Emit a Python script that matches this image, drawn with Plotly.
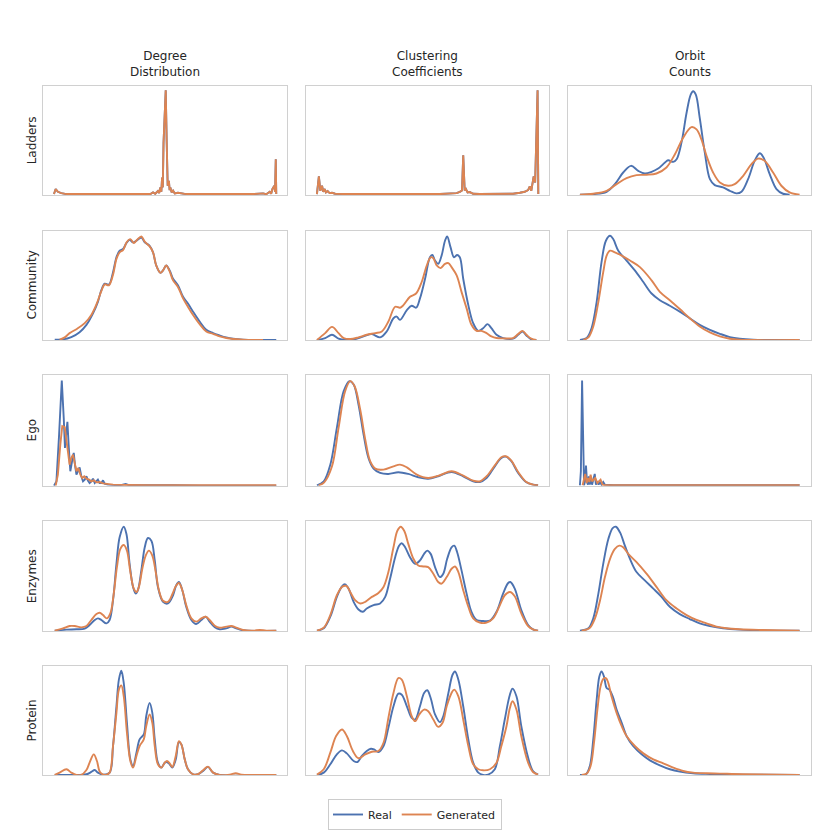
import plotly.graph_objects as go

BLUE = "#4C72B0"
ORANGE = "#DD8452"

datasets = ["Ladders", "Community", "Ego", "Enzymes", "Protein"]
metrics = ["Degree<br>Distribution", "Clustering<br>Coefficients", "Orbit<br>Counts"]
series_names = ["Real", "Generated"]

# ---- Ladders (real and generated coincide) ----
ladders_deg_x = [0.045, 0.052, 0.061, 0.075, 0.096, 0.369, 0.423, 0.440, 0.451, 0.460, 0.471, 0.476,
                 0.481, 0.485, 0.488, 0.491, 0.494, 0.497, 0.503, 0.507, 0.509, 0.511, 0.516, 0.519,
                 0.522, 0.527, 0.533, 0.540, 0.553, 0.587, 0.861, 0.902, 0.915, 0.929, 0.935, 0.940,
                 0.948, 0.951, 0.954, 0.956]
ladders_deg_y = [0.009, 0.055, 0.030, 0.018, 0.009, 0.009, 0.015, 0.010, 0.024, 0.012, 0.036, 0.018,
                 0.070, 0.030, 0.160, 0.070, 0.480, 0.700, 0.958, 0.480, 0.120, 0.085, 0.130, 0.045,
                 0.070, 0.025, 0.040, 0.015, 0.021, 0.009, 0.009, 0.015, 0.008, 0.030, 0.012, 0.055,
                 0.085, 0.030, 0.327, 0.009]

ladders_clu_x = [0.045, 0.053, 0.059, 0.066, 0.071, 0.077, 0.082, 0.089, 0.097, 0.107, 0.120, 0.155,
                 0.551, 0.592, 0.620, 0.633, 0.642, 0.647, 0.653, 0.658, 0.665, 0.674, 0.688, 0.715,
                 0.798, 0.852, 0.880, 0.900, 0.914, 0.921, 0.927, 0.937, 0.943, 0.948, 0.953, 0.956]
ladders_clu_y = [0.009, 0.170, 0.039, 0.085, 0.030, 0.055, 0.024, 0.036, 0.018, 0.021, 0.012, 0.009,
                 0.009, 0.012, 0.018, 0.030, 0.042, 0.364, 0.042, 0.055, 0.024, 0.027, 0.012, 0.009,
                 0.009, 0.012, 0.021, 0.030, 0.045, 0.079, 0.039, 0.170, 0.115, 0.480, 0.958, 0.009]

ladders_orb_real_x = [0.049, 0.104, 0.159, 0.193, 0.227, 0.259, 0.289, 0.316, 0.344, 0.371, 0.399, 0.412,
                      0.433, 0.447, 0.467, 0.488, 0.505, 0.515, 0.526, 0.542, 0.563, 0.584, 0.604, 0.638,
                      0.666, 0.693, 0.714, 0.741, 0.768, 0.789, 0.805, 0.830, 0.858, 0.885, 0.912]
ladders_orb_real_y = [0.003, 0.009, 0.030, 0.100, 0.206, 0.267, 0.221, 0.197, 0.212, 0.242, 0.297, 0.318,
                      0.303, 0.327, 0.479, 0.752, 0.918, 0.948, 0.918, 0.706, 0.388, 0.145, 0.091, 0.070,
                      0.039, 0.015, 0.030, 0.145, 0.312, 0.382, 0.342, 0.191, 0.055, 0.012, 0.003]
ladders_orb_gen_x = [0.049, 0.104, 0.159, 0.200, 0.241, 0.282, 0.323, 0.364, 0.405, 0.440, 0.474, 0.508,
                     0.529, 0.549, 0.570, 0.597, 0.625, 0.659, 0.686, 0.721, 0.755, 0.782, 0.810, 0.844,
                     0.878, 0.912, 0.953]
ladders_orb_gen_y = [0.003, 0.012, 0.039, 0.100, 0.155, 0.182, 0.185, 0.197, 0.252, 0.373, 0.524, 0.621,
                     0.600, 0.509, 0.358, 0.206, 0.115, 0.085, 0.100, 0.176, 0.282, 0.333, 0.312, 0.206,
                     0.085, 0.024, 0.003]

# ---- Community ----
community_deg_real_x = [0.048, 0.082, 0.116, 0.150, 0.178, 0.205, 0.225, 0.239, 0.253, 0.270, 0.287, 0.301,
                        0.314, 0.328, 0.342, 0.355, 0.369, 0.383, 0.403, 0.417, 0.437, 0.451, 0.464, 0.481,
                        0.492, 0.505, 0.519, 0.533, 0.553, 0.574, 0.594, 0.615, 0.642, 0.669, 0.697, 0.724,
                        0.751, 0.779, 0.820, 0.902, 0.956]
community_deg_real_y = [0.006, 0.009, 0.030, 0.075, 0.142, 0.247, 0.352, 0.458, 0.518, 0.509, 0.623, 0.759,
                        0.819, 0.834, 0.889, 0.919, 0.895, 0.910, 0.940, 0.895, 0.864, 0.804, 0.684, 0.617,
                        0.639, 0.684, 0.639, 0.563, 0.503, 0.398, 0.337, 0.262, 0.172, 0.096, 0.066, 0.045,
                        0.027, 0.015, 0.006, 0.003, 0.003]
community_deg_gen_x = [0.068, 0.089, 0.109, 0.137, 0.171, 0.198, 0.219, 0.239, 0.253, 0.270, 0.287, 0.301,
                       0.314, 0.328, 0.344, 0.358, 0.372, 0.385, 0.403, 0.417, 0.437, 0.451, 0.464, 0.481,
                       0.492, 0.505, 0.519, 0.533, 0.553, 0.574, 0.594, 0.615, 0.642, 0.669, 0.697, 0.724,
                       0.751, 0.779, 0.820, 0.902]
community_deg_gen_y = [0.006, 0.027, 0.066, 0.102, 0.157, 0.232, 0.328, 0.449, 0.512, 0.503, 0.599, 0.744,
                       0.804, 0.825, 0.901, 0.925, 0.889, 0.916, 0.949, 0.901, 0.858, 0.804, 0.684, 0.617,
                       0.639, 0.684, 0.630, 0.548, 0.488, 0.383, 0.307, 0.232, 0.148, 0.081, 0.060, 0.036,
                       0.021, 0.012, 0.006, 0.003]

community_clu_real_x = [0.045, 0.079, 0.107, 0.134, 0.161, 0.196, 0.237, 0.271, 0.305, 0.332, 0.360, 0.373,
                        0.387, 0.415, 0.435, 0.453, 0.469, 0.490, 0.510, 0.520, 0.531, 0.544, 0.558, 0.572,
                        0.581, 0.595, 0.609, 0.622, 0.633, 0.647, 0.668, 0.688, 0.709, 0.729, 0.747, 0.763,
                        0.784, 0.811, 0.852, 0.873, 0.891, 0.907, 0.927, 0.948]
community_clu_real_y = [0.003, 0.021, 0.051, 0.015, 0.003, 0.009, 0.036, 0.057, 0.027, 0.081, 0.202, 0.217,
                        0.187, 0.277, 0.316, 0.298, 0.383, 0.563, 0.759, 0.780, 0.729, 0.699, 0.774, 0.910,
                        0.949, 0.849, 0.759, 0.780, 0.759, 0.563, 0.322, 0.157, 0.087, 0.111, 0.148, 0.111,
                        0.051, 0.021, 0.015, 0.051, 0.081, 0.045, 0.009, 0.003]
community_clu_gen_x = [0.045, 0.079, 0.107, 0.134, 0.155, 0.182, 0.216, 0.250, 0.285, 0.312, 0.339, 0.367,
                       0.387, 0.401, 0.428, 0.453, 0.476, 0.497, 0.513, 0.524, 0.538, 0.554, 0.572, 0.586,
                       0.599, 0.620, 0.640, 0.661, 0.681, 0.702, 0.722, 0.743, 0.763, 0.784, 0.811, 0.852,
                       0.873, 0.891, 0.907, 0.927, 0.948]
community_clu_gen_y = [0.003, 0.066, 0.123, 0.066, 0.021, 0.012, 0.027, 0.051, 0.066, 0.081, 0.172, 0.307,
                       0.298, 0.322, 0.398, 0.428, 0.533, 0.684, 0.759, 0.750, 0.684, 0.660, 0.699, 0.705,
                       0.669, 0.593, 0.443, 0.292, 0.142, 0.087, 0.087, 0.066, 0.036, 0.021, 0.018, 0.021,
                       0.057, 0.087, 0.051, 0.015, 0.003]

community_orb_real_x = [0.049, 0.077, 0.097, 0.118, 0.138, 0.156, 0.173, 0.186, 0.207, 0.241, 0.275, 0.310,
                        0.344, 0.378, 0.419, 0.460, 0.501, 0.542, 0.584, 0.625, 0.666, 0.707, 0.762, 0.858,
                        0.953]
community_orb_real_y = [0.003, 0.021, 0.111, 0.352, 0.714, 0.910, 0.955, 0.925, 0.819, 0.729, 0.639, 0.533,
                        0.428, 0.367, 0.316, 0.262, 0.202, 0.142, 0.096, 0.060, 0.030, 0.015, 0.006, 0.003,
                        0.003]
community_orb_gen_x = [0.063, 0.084, 0.104, 0.125, 0.145, 0.159, 0.173, 0.193, 0.221, 0.255, 0.296, 0.344,
                       0.378, 0.419, 0.460, 0.501, 0.542, 0.584, 0.625, 0.666, 0.707, 0.762, 0.953]
community_orb_gen_y = [0.003, 0.027, 0.127, 0.352, 0.623, 0.774, 0.819, 0.804, 0.774, 0.729, 0.669, 0.548,
                       0.443, 0.367, 0.286, 0.202, 0.127, 0.072, 0.036, 0.015, 0.006, 0.003, 0.003]

# ---- Ego ----
ego_deg_real_x = [0.045, 0.055, 0.066, 0.077, 0.085, 0.090, 0.096, 0.100, 0.105, 0.112, 0.119, 0.126,
                  0.131, 0.137, 0.143, 0.150, 0.157, 0.164, 0.171, 0.178, 0.184, 0.191, 0.198, 0.205,
                  0.212, 0.219, 0.225, 0.232, 0.239, 0.246, 0.253, 0.266, 0.287, 0.314, 0.339, 0.355,
                  0.396, 0.512, 0.519, 0.533, 0.642, 0.956]
ego_deg_real_y = [0.000, 0.039, 0.462, 0.952, 0.613, 0.341, 0.492, 0.577, 0.372, 0.130, 0.221, 0.296,
                  0.190, 0.100, 0.130, 0.166, 0.085, 0.039, 0.054, 0.085, 0.045, 0.024, 0.039, 0.063,
                  0.024, 0.039, 0.054, 0.024, 0.024, 0.048, 0.018, 0.009, 0.009, 0.003, 0.015, 0.003,
                  0.003, 0.003, 0.009, 0.003, 0.000, 0.000]
ego_deg_gen_x = [0.052, 0.061, 0.071, 0.079, 0.089, 0.096, 0.102, 0.109, 0.116, 0.123, 0.130, 0.137,
                 0.145, 0.153, 0.161, 0.169, 0.178, 0.189, 0.198, 0.208, 0.219, 0.232, 0.246, 0.260,
                 0.287, 0.342, 0.437, 0.956]
ego_deg_gen_y = [0.000, 0.100, 0.372, 0.538, 0.529, 0.432, 0.311, 0.190, 0.251, 0.281, 0.190, 0.130,
                 0.160, 0.100, 0.069, 0.085, 0.063, 0.054, 0.039, 0.048, 0.030, 0.033, 0.021, 0.015,
                 0.009, 0.006, 0.003, 0.003]

ego_clu_real_x = [0.045, 0.073, 0.100, 0.127, 0.155, 0.179, 0.196, 0.216, 0.237, 0.257, 0.278, 0.305,
                  0.339, 0.380, 0.421, 0.462, 0.503, 0.544, 0.599, 0.647, 0.688, 0.715, 0.743, 0.777,
                  0.804, 0.822, 0.845, 0.873, 0.907, 0.934, 0.955]
ego_clu_real_y = [0.003, 0.039, 0.190, 0.523, 0.855, 0.946, 0.915, 0.734, 0.462, 0.251, 0.154, 0.115,
                  0.106, 0.121, 0.106, 0.076, 0.063, 0.085, 0.124, 0.085, 0.039, 0.033, 0.069, 0.175,
                  0.251, 0.263, 0.221, 0.115, 0.030, 0.009, 0.003]
ego_clu_gen_x = [0.052, 0.075, 0.107, 0.134, 0.161, 0.182, 0.200, 0.223, 0.244, 0.264, 0.285, 0.319,
                 0.360, 0.387, 0.415, 0.456, 0.503, 0.551, 0.599, 0.647, 0.688, 0.715, 0.743, 0.777,
                 0.804, 0.822, 0.845, 0.873, 0.907, 0.934, 0.955]
ego_clu_gen_y = [0.003, 0.030, 0.175, 0.523, 0.855, 0.946, 0.900, 0.689, 0.417, 0.221, 0.154, 0.145,
                 0.175, 0.190, 0.166, 0.100, 0.069, 0.094, 0.130, 0.091, 0.045, 0.039, 0.085, 0.184,
                 0.257, 0.266, 0.227, 0.124, 0.033, 0.009, 0.003]

ego_orb_real_x = [0.049, 0.053, 0.058, 0.062, 0.066, 0.070, 0.074, 0.078, 0.082, 0.086, 0.090, 0.095,
                  0.099, 0.104, 0.110, 0.115, 0.121, 0.126, 0.132, 0.138, 0.145, 0.152, 0.186, 0.953]
ego_orb_real_y = [0.003, 0.130, 0.952, 0.311, 0.003, 0.039, 0.181, 0.039, 0.009, 0.085, 0.009, 0.069,
                  0.009, 0.054, 0.106, 0.009, 0.039, 0.009, 0.033, 0.009, 0.033, 0.009, 0.003, 0.003]
ego_orb_gen_x = [0.060, 0.066, 0.071, 0.077, 0.082, 0.088, 0.093, 0.099, 0.104, 0.112, 0.121, 0.129,
                 0.134, 0.142, 0.152, 0.953]
ego_orb_gen_y = [0.003, 0.054, 0.106, 0.024, 0.069, 0.033, 0.100, 0.039, 0.054, 0.069, 0.024, 0.039,
                 0.054, 0.009, 0.003, 0.003]

# ---- Enzymes ----
enzymes_deg_real_x = [0.048, 0.096, 0.137, 0.171, 0.191, 0.212, 0.225, 0.239, 0.260, 0.273, 0.287, 0.301,
                      0.314, 0.331, 0.342, 0.355, 0.369, 0.380, 0.389, 0.403, 0.417, 0.430, 0.444, 0.458,
                      0.471, 0.492, 0.512, 0.533, 0.546, 0.557, 0.571, 0.587, 0.608, 0.628, 0.649, 0.667,
                      0.683, 0.704, 0.724, 0.751, 0.772, 0.792, 0.820, 0.956]
enzymes_deg_real_y = [0.003, 0.012, 0.015, 0.021, 0.054, 0.100, 0.115, 0.100, 0.069, 0.100, 0.281, 0.613,
                      0.855, 0.952, 0.885, 0.613, 0.402, 0.341, 0.372, 0.553, 0.764, 0.849, 0.825, 0.644,
                      0.402, 0.266, 0.251, 0.326, 0.417, 0.447, 0.372, 0.221, 0.100, 0.063, 0.100, 0.130,
                      0.085, 0.033, 0.015, 0.024, 0.039, 0.024, 0.006, 0.003]
enzymes_deg_gen_x = [0.048, 0.082, 0.109, 0.130, 0.157, 0.178, 0.198, 0.219, 0.232, 0.246, 0.262, 0.276,
                     0.290, 0.303, 0.317, 0.331, 0.344, 0.358, 0.372, 0.383, 0.393, 0.407, 0.421, 0.434,
                     0.448, 0.462, 0.475, 0.492, 0.512, 0.530, 0.544, 0.557, 0.571, 0.587, 0.608, 0.628,
                     0.649, 0.667, 0.683, 0.704, 0.724, 0.751, 0.772, 0.792, 0.820, 0.861, 0.888, 0.915,
                     0.956]
enzymes_deg_gen_y = [0.003, 0.024, 0.045, 0.045, 0.033, 0.045, 0.100, 0.154, 0.166, 0.145, 0.115, 0.160,
                     0.341, 0.583, 0.749, 0.785, 0.734, 0.538, 0.387, 0.356, 0.402, 0.568, 0.689, 0.734,
                     0.689, 0.538, 0.372, 0.275, 0.266, 0.335, 0.408, 0.438, 0.372, 0.236, 0.115, 0.085,
                     0.115, 0.130, 0.100, 0.048, 0.030, 0.039, 0.045, 0.030, 0.009, 0.003, 0.009, 0.003,
                     0.003]

enzymes_clu_real_x = [0.045, 0.073, 0.100, 0.127, 0.148, 0.161, 0.175, 0.196, 0.216, 0.234, 0.250, 0.278,
                      0.305, 0.326, 0.346, 0.367, 0.383, 0.394, 0.408, 0.428, 0.449, 0.469, 0.486, 0.499,
                      0.513, 0.531, 0.551, 0.565, 0.581, 0.599, 0.610, 0.622, 0.640, 0.661, 0.681, 0.702,
                      0.729, 0.757, 0.784, 0.811, 0.832, 0.841, 0.859, 0.886, 0.914, 0.934, 0.955]
enzymes_clu_real_y = [0.003, 0.024, 0.130, 0.311, 0.408, 0.426, 0.387, 0.266, 0.196, 0.175, 0.205, 0.236,
                      0.251, 0.311, 0.477, 0.674, 0.779, 0.801, 0.764, 0.674, 0.613, 0.644, 0.704, 0.734,
                      0.704, 0.583, 0.492, 0.523, 0.659, 0.764, 0.779, 0.719, 0.553, 0.341, 0.175, 0.100,
                      0.091, 0.094, 0.175, 0.341, 0.438, 0.447, 0.387, 0.190, 0.054, 0.015, 0.003]
enzymes_clu_gen_x = [0.045, 0.073, 0.100, 0.127, 0.148, 0.166, 0.182, 0.202, 0.223, 0.244, 0.271, 0.298,
                     0.319, 0.339, 0.360, 0.376, 0.390, 0.404, 0.421, 0.442, 0.462, 0.483, 0.503, 0.524,
                     0.544, 0.558, 0.579, 0.599, 0.613, 0.627, 0.647, 0.668, 0.688, 0.715, 0.743, 0.770,
                     0.798, 0.818, 0.839, 0.859, 0.886, 0.914, 0.934, 0.955]
enzymes_clu_gen_y = [0.003, 0.030, 0.145, 0.326, 0.402, 0.411, 0.356, 0.281, 0.251, 0.266, 0.311, 0.347,
                     0.402, 0.538, 0.764, 0.915, 0.952, 0.915, 0.795, 0.659, 0.598, 0.589, 0.583, 0.523,
                     0.447, 0.432, 0.492, 0.568, 0.589, 0.538, 0.372, 0.221, 0.115, 0.076, 0.076, 0.115,
                     0.236, 0.326, 0.356, 0.317, 0.160, 0.045, 0.015, 0.003]

enzymes_orb_real_x = [0.049, 0.084, 0.104, 0.125, 0.145, 0.166, 0.184, 0.197, 0.214, 0.234, 0.255, 0.282,
                      0.316, 0.351, 0.385, 0.419, 0.460, 0.501, 0.542, 0.584, 0.638, 0.707, 0.789, 0.953]
enzymes_orb_real_y = [0.003, 0.024, 0.115, 0.341, 0.613, 0.840, 0.940, 0.952, 0.900, 0.779, 0.659, 0.538,
                      0.462, 0.387, 0.311, 0.221, 0.154, 0.109, 0.069, 0.045, 0.024, 0.012, 0.006, 0.003]
enzymes_orb_gen_x = [0.056, 0.088, 0.111, 0.132, 0.152, 0.173, 0.193, 0.211, 0.227, 0.248, 0.282, 0.323,
                     0.364, 0.405, 0.447, 0.488, 0.529, 0.570, 0.611, 0.652, 0.707, 0.789, 0.953]
enzymes_orb_gen_y = [0.003, 0.024, 0.115, 0.281, 0.492, 0.659, 0.749, 0.779, 0.764, 0.704, 0.628, 0.523,
                     0.402, 0.281, 0.205, 0.145, 0.100, 0.069, 0.039, 0.024, 0.015, 0.009, 0.003]

# ---- Protein ----
protein_deg_real_x = [0.048, 0.137, 0.178, 0.198, 0.212, 0.225, 0.246, 0.273, 0.287, 0.301, 0.311, 0.321,
                      0.331, 0.344, 0.358, 0.369, 0.383, 0.396, 0.413, 0.423, 0.437, 0.448, 0.458, 0.471,
                      0.485, 0.499, 0.508, 0.519, 0.530, 0.544, 0.557, 0.567, 0.581, 0.594, 0.615, 0.635,
                      0.656, 0.676, 0.697, 0.724, 0.956]
protein_deg_real_y = [0.003, 0.003, 0.009, 0.030, 0.048, 0.024, 0.006, 0.024, 0.267, 0.630, 0.873, 0.955,
                      0.842, 0.479, 0.145, 0.085, 0.206, 0.327, 0.373, 0.539, 0.661, 0.570, 0.327, 0.115,
                      0.070, 0.115, 0.121, 0.100, 0.070, 0.145, 0.303, 0.282, 0.145, 0.055, 0.009, 0.009,
                      0.039, 0.076, 0.024, 0.003, 0.003]
protein_deg_gen_x = [0.048, 0.068, 0.096, 0.116, 0.137, 0.157, 0.178, 0.191, 0.208, 0.221, 0.235, 0.257,
                     0.273, 0.287, 0.301, 0.311, 0.321, 0.331, 0.344, 0.358, 0.369, 0.383, 0.396, 0.413,
                     0.423, 0.437, 0.448, 0.458, 0.471, 0.485, 0.499, 0.508, 0.519, 0.530, 0.544, 0.557,
                     0.567, 0.581, 0.594, 0.615, 0.635, 0.656, 0.676, 0.697, 0.724, 0.765, 0.790, 0.813,
                     0.861, 0.956]
protein_deg_gen_y = [0.003, 0.024, 0.055, 0.024, 0.003, 0.003, 0.048, 0.115, 0.191, 0.130, 0.024, 0.003,
                     0.024, 0.267, 0.570, 0.782, 0.821, 0.721, 0.388, 0.130, 0.070, 0.176, 0.267, 0.327,
                     0.448, 0.555, 0.479, 0.267, 0.100, 0.070, 0.115, 0.130, 0.109, 0.076, 0.176, 0.312,
                     0.282, 0.145, 0.055, 0.009, 0.009, 0.045, 0.079, 0.024, 0.003, 0.006, 0.018, 0.006,
                     0.003, 0.003]

protein_clu_real_x = [0.045, 0.073, 0.100, 0.127, 0.148, 0.168, 0.196, 0.212, 0.230, 0.250, 0.267, 0.280,
                      0.298, 0.319, 0.339, 0.360, 0.380, 0.394, 0.415, 0.435, 0.449, 0.469, 0.486, 0.499,
                      0.513, 0.531, 0.551, 0.565, 0.586, 0.603, 0.613, 0.627, 0.647, 0.668, 0.688, 0.709,
                      0.729, 0.750, 0.777, 0.798, 0.818, 0.839, 0.850, 0.866, 0.886, 0.914, 0.934, 0.955]
protein_clu_real_y = [0.003, 0.024, 0.100, 0.191, 0.227, 0.200, 0.130, 0.121, 0.176, 0.221, 0.242, 0.236,
                      0.212, 0.267, 0.433, 0.630, 0.745, 0.736, 0.630, 0.524, 0.509, 0.630, 0.752, 0.776,
                      0.706, 0.555, 0.485, 0.539, 0.752, 0.918, 0.948, 0.873, 0.630, 0.327, 0.115, 0.024,
                      0.003, 0.006, 0.055, 0.267, 0.509, 0.736, 0.791, 0.721, 0.448, 0.161, 0.039, 0.006]
protein_clu_gen_x = [0.045, 0.073, 0.100, 0.124, 0.148, 0.168, 0.193, 0.216, 0.244, 0.271, 0.298, 0.319,
                     0.339, 0.360, 0.380, 0.394, 0.415, 0.435, 0.449, 0.466, 0.486, 0.503, 0.524, 0.544,
                     0.562, 0.579, 0.599, 0.610, 0.627, 0.647, 0.668, 0.688, 0.709, 0.729, 0.757, 0.784,
                     0.804, 0.825, 0.839, 0.850, 0.866, 0.886, 0.914, 0.934, 0.955]
protein_clu_gen_y = [0.006, 0.055, 0.206, 0.358, 0.418, 0.358, 0.221, 0.155, 0.191, 0.215, 0.221, 0.297,
                     0.524, 0.752, 0.888, 0.873, 0.721, 0.539, 0.494, 0.555, 0.600, 0.585, 0.509, 0.442,
                     0.479, 0.630, 0.752, 0.782, 0.721, 0.509, 0.267, 0.100, 0.055, 0.045, 0.055, 0.115,
                     0.267, 0.448, 0.615, 0.676, 0.600, 0.358, 0.115, 0.030, 0.006]

protein_orb_real_x = [0.049, 0.074, 0.090, 0.104, 0.118, 0.129, 0.138, 0.148, 0.159, 0.170, 0.184, 0.200,
                      0.221, 0.241, 0.268, 0.303, 0.337, 0.378, 0.419, 0.460, 0.515, 0.584, 0.721, 0.953]
protein_orb_real_y = [0.003, 0.009, 0.085, 0.327, 0.691, 0.903, 0.948, 0.903, 0.797, 0.782, 0.721, 0.600,
                      0.479, 0.358, 0.267, 0.191, 0.136, 0.091, 0.055, 0.033, 0.018, 0.012, 0.006, 0.003]
protein_orb_gen_x = [0.056, 0.077, 0.093, 0.107, 0.121, 0.134, 0.145, 0.156, 0.166, 0.179, 0.200, 0.221,
                     0.241, 0.275, 0.310, 0.351, 0.392, 0.433, 0.474, 0.515, 0.570, 0.625, 0.721, 0.953]
protein_orb_gen_y = [0.003, 0.015, 0.085, 0.297, 0.600, 0.812, 0.879, 0.888, 0.842, 0.721, 0.570, 0.448,
                     0.358, 0.267, 0.200, 0.145, 0.109, 0.070, 0.039, 0.024, 0.018, 0.015, 0.009, 0.003]

# panel -> (real x, real y, generated x, generated y, spiky?)
panels = [
    [(ladders_deg_x, ladders_deg_y, ladders_deg_x, ladders_deg_y, True),
     (ladders_clu_x, ladders_clu_y, ladders_clu_x, ladders_clu_y, True),
     (ladders_orb_real_x, ladders_orb_real_y, ladders_orb_gen_x, ladders_orb_gen_y, False)],
    [(community_deg_real_x, community_deg_real_y, community_deg_gen_x, community_deg_gen_y, False),
     (community_clu_real_x, community_clu_real_y, community_clu_gen_x, community_clu_gen_y, False),
     (community_orb_real_x, community_orb_real_y, community_orb_gen_x, community_orb_gen_y, False)],
    [(ego_deg_real_x, ego_deg_real_y, ego_deg_gen_x, ego_deg_gen_y, True),
     (ego_clu_real_x, ego_clu_real_y, ego_clu_gen_x, ego_clu_gen_y, False),
     (ego_orb_real_x, ego_orb_real_y, ego_orb_gen_x, ego_orb_gen_y, True)],
    [(enzymes_deg_real_x, enzymes_deg_real_y, enzymes_deg_gen_x, enzymes_deg_gen_y, False),
     (enzymes_clu_real_x, enzymes_clu_real_y, enzymes_clu_gen_x, enzymes_clu_gen_y, False),
     (enzymes_orb_real_x, enzymes_orb_real_y, enzymes_orb_gen_x, enzymes_orb_gen_y, False)],
    [(protein_deg_real_x, protein_deg_real_y, protein_deg_gen_x, protein_deg_gen_y, False),
     (protein_clu_real_x, protein_clu_real_y, protein_clu_gen_x, protein_clu_gen_y, False),
     (protein_orb_real_x, protein_orb_real_y, protein_orb_gen_x, protein_orb_gen_y, False)],
]

W = H = 830
col_px = [(43, 287), (306, 549), (568, 811)]
row_px = [(86, 196), (232, 342), (377, 488), (524, 634), (669, 779)]

fig = go.Figure()
layout = {}
for r in range(5):
    for c in range(3):
        idx = r * 3 + c + 1
        sfx = "" if idx == 1 else str(idx)
        rx, ry, gx, gy, spiky = panels[r][c]
        shape = "linear" if spiky else "spline"
        for k, (xs, ys, col) in enumerate([(rx, ry, BLUE), (gx, gy, ORANGE)]):
            fig.add_trace(go.Scatter(
                x=xs, y=ys, mode="lines", name=series_names[k],
                line=dict(color=col, width=1.9, shape=shape),
                xaxis="x" + sfx, yaxis="y" + sfx,
                showlegend=(idx == 1), legendgroup=series_names[k],
            ))
        x0, x1 = col_px[c]
        y0, y1 = row_px[r]
        ax = dict(showline=True, mirror=True, linecolor="#d0d0d0", linewidth=1.3,
                  showgrid=False, zeroline=False, showticklabels=False, ticks="",
                  fixedrange=True)
        layout["xaxis" + sfx] = dict(ax, domain=[x0 / W, x1 / W], range=[0, 1],
                                     anchor="y" + sfx)
        layout["yaxis" + sfx] = dict(ax, domain=[1 - y1 / H, 1 - y0 / H], range=[0, 1],
                                     anchor="x" + sfx)

annotations = []
for c, m in enumerate(metrics):
    x0, x1 = col_px[c]
    annotations.append(dict(text=m, x=(x0 + x1) / 2 / W, y=1 - 81 / H, xref="paper", yref="paper",
                            xanchor="center", yanchor="bottom", showarrow=False,
                            font=dict(size=12, color="#262626")))
for r, d in enumerate(datasets):
    y0, y1 = row_px[r]
    annotations.append(dict(text=d, x=32 / W, y=1 - (y0 + y1) / 2 / H, xref="paper", yref="paper",
                            xanchor="center", yanchor="middle", textangle=-90, showarrow=False,
                            font=dict(size=12, color="#262626")))

fig.update_layout(
    width=W, height=H,
    margin=dict(l=0, r=0, t=0, b=0),
    paper_bgcolor="white", plot_bgcolor="white",
    font=dict(family="DejaVu Sans", size=11, color="#262626"),
    annotations=annotations,
    legend=dict(orientation="h", x=0.5, xanchor="center", y=1 - 803 / H, yanchor="top",
                bordercolor="#cccccc", borderwidth=1, font=dict(size=11),
                itemwidth=30, tracegroupgap=0),
    **layout,
)

# drop the browser's default body margin so the figure sits at the page origin
fig.write_html("out.html", config={"displayModeBar": False},
               post_script="document.body.style.margin='0';")
